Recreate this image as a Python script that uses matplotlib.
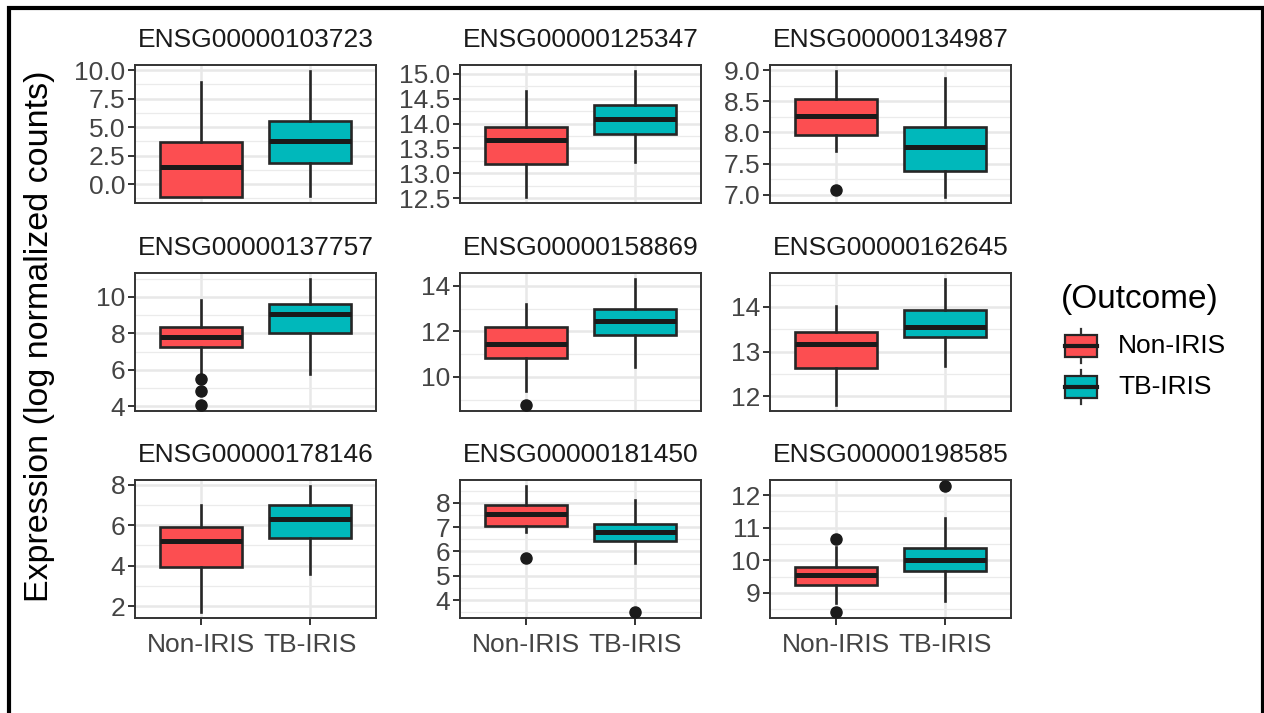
import numpy as np
import matplotlib.pyplot as plt
from matplotlib.patches import Rectangle
from matplotlib.ticker import FixedLocator

plt.rcParams['font.family'] = ['Liberation Sans', 'DejaVu Sans']

W, H = 1264, 713

genes = ['ENSG00000103723', 'ENSG00000125347', 'ENSG00000134987',
         'ENSG00000137757', 'ENSG00000158869', 'ENSG00000162645',
         'ENSG00000178146', 'ENSG00000181450', 'ENSG00000198585']
groups = ['Non-IRIS', 'TB-IRIS']
colors = ['#FC4E51', '#00B8BB']

# box statistics per gene, Non-IRIS
non_whislo = [-1.10, 12.53, 7.70, 5.75, 9.39, 11.81, 1.72, 6.79, 8.70]
non_q1 = [-1.10, 13.18, 7.96, 7.27, 10.83, 12.64, 3.92, 7.04, 9.23]
non_med = [1.53, 13.66, 8.27, 7.82, 11.45, 13.16, 5.20, 7.55, 9.56]
non_q3 = [3.66, 13.94, 8.53, 8.33, 12.18, 13.45, 5.91, 7.89, 9.78]
non_whishi = [8.99, 14.65, 8.98, 9.82, 13.20, 14.02, 6.98, 8.68, 10.42]
non_fliers = [[], [], [7.07], [5.51, 4.86, 4.09], [8.77], [], [], [5.71], [10.66, 8.42]]

# box statistics per gene, TB-IRIS
tb_whislo = [-1.06, 13.22, 6.97, 5.78, 10.41, 12.68, 3.56, 5.51, 8.75]
tb_q1 = [1.87, 13.80, 7.39, 8.04, 11.85, 13.33, 5.37, 6.42, 9.68]
tb_med = [3.83, 14.09, 7.77, 9.04, 12.44, 13.56, 6.32, 6.79, 10.02]
tb_q3 = [5.53, 14.38, 8.09, 9.60, 12.98, 13.94, 7.01, 7.14, 10.37]
tb_whishi = [9.90, 15.05, 8.87, 10.97, 14.29, 14.62, 7.92, 8.11, 11.29]
tb_fliers = [[], [], [], [], [], [], [], [3.52], [12.27]]

yticks = [[0.0, 2.5, 5.0, 7.5, 10.0], [12.5, 13.0, 13.5, 14.0, 14.5, 15.0],
          [7.0, 7.5, 8.0, 8.5, 9.0], [4, 6, 8, 10], [10, 12, 14], [12, 13, 14],
          [2, 4, 6, 8], [4, 5, 6, 7, 8], [9, 10, 11, 12]]

col_left = [135, 460, 770]
row_top = [65, 273, 480]
pw, ph = 241, 138

fig = plt.figure(figsize=(W / 100, H / 100), dpi=100)


def box_stats(i):
    out = []
    for lo, q1, med, q3, hi, fl in (
            (non_whislo, non_q1, non_med, non_q3, non_whishi, non_fliers),
            (tb_whislo, tb_q1, tb_med, tb_q3, tb_whishi, tb_fliers)):
        out.append(dict(whislo=lo[i], q1=q1[i], med=med[i], q3=q3[i],
                        whishi=hi[i], fliers=fl[i]))
    return out


for i, gene in enumerate(genes):
    r, c = divmod(i, 3)
    ax = fig.add_axes([col_left[c] / W, 1 - (row_top[r] + ph) / H, pw / W, ph / H])
    stats = box_stats(i)
    bp = ax.bxp(stats, positions=[1, 2], widths=0.75, patch_artist=True,
                showcaps=False,
                boxprops=dict(edgecolor='#262626', linewidth=1.9),
                medianprops=dict(color='#1A1A1A', linewidth=3.6, solid_capstyle='butt'),
                whiskerprops=dict(color='#262626', linewidth=1.9),
                flierprops=dict(marker='o', markerfacecolor='#1A1A1A',
                                markeredgecolor='#1A1A1A', markersize=8),
                zorder=3)
    for patch, col in zip(bp['boxes'], colors):
        patch.set_facecolor(col)

    vals = [v for s in stats for v in (s['whislo'], s['whishi'], *s['fliers'])]
    lo, hi = min(vals), max(vals)
    pad = (hi - lo) * 0.05
    ax.set_ylim(lo - pad, hi + pad)
    ax.set_xlim(0.4, 2.6)

    tk = yticks[i]
    step = tk[1] - tk[0]
    minors = np.arange(tk[0] - step / 2, tk[-1] + step, step)
    ax.yaxis.set_major_locator(FixedLocator(tk))
    ax.yaxis.set_minor_locator(FixedLocator(minors))
    if isinstance(tk[0], float):
        ax.set_yticklabels(['%.1f' % t for t in tk])
    ax.grid(True, which='major', color='#E8E8E8', linewidth=1.8, zorder=0)
    ax.grid(True, which='minor', axis='y', color='#EBEBEB', linewidth=0.9, zorder=0)
    ax.set_axisbelow(True)
    ax.tick_params(axis='y', which='major', length=5, width=1.4, color='#333333',
                   labelsize=19, labelcolor='#444444', pad=2)
    ax.tick_params(axis='y', which='minor', length=0)
    if r == 2:
        ax.set_xticks([1, 2])
        ax.set_xticklabels(groups)
        ax.tick_params(axis='x', length=5, width=1.4, color='#333333',
                       labelsize=19, labelcolor='#444444', pad=6)
    else:
        ax.set_xticks([1, 2])
        ax.tick_params(axis='x', length=0, labelbottom=False)
    for sp in ax.spines.values():
        sp.set_color('#333333')
        sp.set_linewidth(1.4)
    ax.set_title(gene, fontsize=19, color='#1A1A1A', pad=13)

fig.text(40 / W, 1 - 336 / H, 'Expression (log normalized counts)',
         rotation=90, ha='center', va='center', fontsize=24.5, color='black')

# legend
leg = fig.add_axes([1040 / W, 1 - 420 / H, 224 / W, 150 / H])
leg.set_xlim(1040, 1264)
leg.set_ylim(420, 270)
leg.axis('off')
leg.text(1140, 300, '(Outcome)', ha='center', va='center', fontsize=24, color='black')
for k, (name, col) in enumerate(zip(groups, colors)):
    yc = 346 + k * 41
    leg.plot([1081, 1081], [yc - 17, yc + 17], color='#333333', lw=1.6)
    leg.add_patch(Rectangle((1065, yc - 11), 32, 22, facecolor=col,
                            edgecolor='#262626', linewidth=1.6, zorder=3))
    leg.plot([1065, 1097], [yc, yc], color='#1A1A1A', lw=3, zorder=4)
    leg.text(1118, yc, name, ha='left', va='center', fontsize=19, color='black')

# outer frame
fig.add_artist(Rectangle((9 / W, -0.05), (1262.5 - 9) / W, 1.05 - 8 / H,
                         transform=fig.transFigure, fill=False,
                         edgecolor='black', linewidth=3, clip_on=False))

fig.savefig('out.png', dpi=100)
